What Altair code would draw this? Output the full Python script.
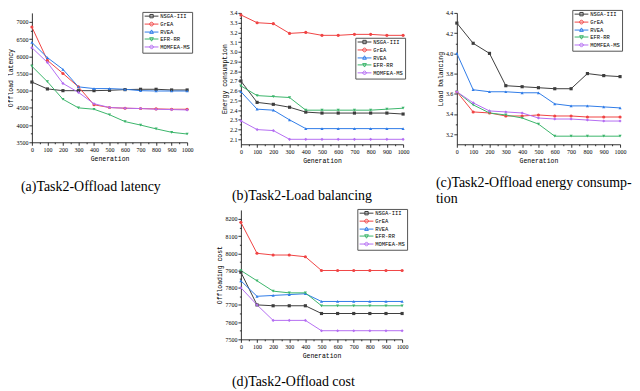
import json
import altair as alt
import pandas as pd

gens = [0, 100, 200, 300, 400, 500, 600, 700, 800, 900, 1000]
gens_minor = [50, 150, 250, 350, 450, 550, 650, 750, 850, 950]
series = ["NSGA-III", "GrEA", "RVEA", "EFR-RR", "MOMFEA-MS"]
colors = ["#3d3d3d", "#f04444", "#2f7ce8", "#3bb56b", "#b46ef2"]
shapes = ["square", "circle", "triangle-up", "triangle-down", "diamond"]
legend_paths = [
    "M-3.7,0H3.7M-0.9,-0.9H0.9V0.9H-0.9Z",
    "M-3.7,0H3.7M1,0A1,1 0 1,1 -1,0A1,1 0 1,1 1,0Z",
    "M-3.7,0H3.7M0,-1.15L1,0.7H-1Z",
    "M-3.7,0H3.7M0,1.15L1,-0.7H-1Z",
    "M-3.7,0H3.7M0,-1.15L1.15,0L0,1.15L-1.15,0Z",
]

# (a) Offload latency
lat_nsga = [5250, 5050, 5000, 5000, 5000, 5010, 5030, 5040, 5040, 5020, 5020]
lat_grea = [6850, 5880, 5500, 5110, 4590, 4510, 4490, 4480, 4470, 4460, 4460]
lat_rvea = [6400, 5960, 5620, 5110, 5060, 5060, 5040, 5000, 4990, 4990, 4990]
lat_efr = [5710, 5260, 4750, 4500, 4460, 4300, 4100, 4000, 3890, 3790, 3740]
lat_mom = [6250, 5820, 5210, 4950, 4620, 4510, 4490, 4480, 4460, 4450, 4440]
lat_major = [3500, 4000, 4500, 5000, 5500, 6000, 6500, 7000]
lat_minor = [3750, 4250, 4750, 5250, 5750, 6250, 6750]

# (b) Energy consumption
en_nsga = [2.70, 2.48, 2.46, 2.43, 2.38, 2.37, 2.37, 2.37, 2.37, 2.37, 2.36]
en_grea = [3.38, 3.30, 3.29, 3.19, 3.20, 3.17, 3.17, 3.18, 3.18, 3.17, 3.17]
en_rvea = [2.59, 2.41, 2.40, 2.30, 2.21, 2.21, 2.21, 2.21, 2.21, 2.21, 2.21]
en_efr = [2.65, 2.55, 2.54, 2.53, 2.40, 2.40, 2.40, 2.40, 2.40, 2.41, 2.42]
en_mom = [2.29, 2.20, 2.19, 2.10, 2.10, 2.10, 2.10, 2.10, 2.10, 2.10, 2.10]
en_major = [2.1, 2.2, 2.3, 2.4, 2.5, 2.6, 2.7, 2.8, 2.9, 3.0, 3.1, 3.2, 3.3, 3.4]
en_minor = [2.15, 2.25, 2.35, 2.45, 2.55, 2.65, 2.75, 2.85, 2.95, 3.05, 3.15, 3.25, 3.35]

# (c) Load balancing
lb_nsga = [4.30, 4.10, 4.00, 3.68, 3.67, 3.66, 3.65, 3.65, 3.80, 3.78, 3.77]
lb_grea = [3.62, 3.42, 3.41, 3.38, 3.38, 3.39, 3.38, 3.38, 3.37, 3.37, 3.37]
lb_rvea = [4.00, 3.64, 3.62, 3.62, 3.61, 3.61, 3.50, 3.48, 3.48, 3.47, 3.46]
lb_efr = [3.62, 3.49, 3.41, 3.39, 3.36, 3.30, 3.18, 3.18, 3.18, 3.18, 3.18]
lb_mom = [3.62, 3.51, 3.43, 3.42, 3.41, 3.36, 3.35, 3.35, 3.34, 3.33, 3.33]
lb_major = [3.2, 3.4, 3.6, 3.8, 4.0, 4.2, 4.4]
lb_minor = [3.3, 3.5, 3.7, 3.9, 4.1, 4.3]

# (d) Offloading cost
oc_nsga = [7890, 7700, 7695, 7695, 7695, 7650, 7650, 7650, 7650, 7650, 7650]
oc_grea = [8180, 8000, 7990, 7990, 7980, 7900, 7900, 7900, 7900, 7900, 7900]
oc_rvea = [7840, 7750, 7755, 7760, 7765, 7720, 7720, 7720, 7720, 7720, 7720]
oc_efr = [7900, 7840, 7780, 7770, 7770, 7695, 7695, 7695, 7695, 7695, 7695]
oc_mom = [7800, 7700, 7610, 7610, 7610, 7550, 7550, 7550, 7550, 7550, 7550]
oc_major = [7500, 7600, 7700, 7800, 7900, 8000, 8100, 8200]
oc_minor = [7550, 7650, 7750, 7850, 7950, 8050, 8150]

TICK_FONT = "Liberation Serif"
MONO = "Liberation Mono"
LEG_SIZE = 14


def mk_axis(major, minor, title, fmt, orient):
    allv = sorted(major + minor)
    test = f"indexof({json.dumps(major)}, datum.value) >= 0"
    return alt.Axis(
        values=allv,
        title=title,
        format=fmt,
        labelExpr=f"{test} ? datum.label : ''",
        tickSize={"condition": {"test": test, "value": 3}, "value": 1.5},
        labelFont=TICK_FONT,
        labelFontSize=6,
        labelColor="black",
        labelPadding=1,
        labelFlush=False,
        labelOverlap=False,
        titleFont=MONO,
        titleFontSize=6.5,
        titleFontWeight="normal",
        titleColor="black",
        titlePadding=2 if orient == "y" else 3,
        tickColor="black",
        domainColor="black",
        tickWidth=0.8,
        domainWidth=0.8,
        grid=False,
    )


def panel(vals, ytitle, domain, major, minor, fmt, width, height, lx, ly,
          caption, cap_dx, cap_offset):
    rows = []
    for s, vs in zip(series, vals):
        for g, v in zip(gens, vs):
            rows.append({"gen": g, "series": s, "value": v})
    df = pd.DataFrame(rows)
    base = alt.Chart(df).encode(
        x=alt.X("gen:Q", scale=alt.Scale(domain=[-0.01, 1000.01], nice=False),
                axis=mk_axis(gens, gens_minor, "Generation", "d", "x")),
        y=alt.Y("value:Q", scale=alt.Scale(domain=domain, nice=False, zero=False),
                axis=mk_axis(major, minor, ytitle, fmt, "y")),
    )
    leg = alt.Legend(
        orient="none", legendX=lx, legendY=ly, title=None,
        labelFont=MONO, labelFontSize=5.5, labelColor="black",
        symbolSize=LEG_SIZE, symbolStrokeWidth=1.0, symbolOpacity=1,
        symbolOffset=5, labelOffset=6,
        rowPadding=-1, padding=1.5, strokeColor="#555555", fillColor="white",
        labelLimit=0,
    )
    layers = [
        base.transform_filter("false")
        .mark_point(filled=False, strokeWidth=1.0, size=LEG_SIZE)
        .encode(
            color=alt.Color("series:N", scale=alt.Scale(domain=series, range=colors), legend=leg),
            shape=alt.Shape("series:N", scale=alt.Scale(domain=series, range=legend_paths), legend=leg),
        )
    ]
    for s, c in zip(series, colors):
        layers.append(
            base.transform_filter(alt.datum.series == s)
            .mark_line(strokeWidth=1, color=c)
        )
    for s, c, shp in zip(series, colors, shapes):
        layers.append(
            base.transform_filter(alt.datum.series == s)
            .mark_point(shape=shp, filled=True, size=10, opacity=1, color=c)
        )
    return alt.layer(*layers).properties(
        width=width, height=height,
        title=alt.TitleParams(
            text=caption, orient="bottom", anchor="start", frame="group",
            font="Liberation Serif", fontSize=14, fontWeight="normal", color="black",
            dx=cap_dx, offset=cap_offset, lineHeight=17,
        ),
    )


pa = panel([lat_nsga, lat_grea, lat_rvea, lat_efr, lat_mom], "Offload latency",
           [3499.9, 7260], lat_major, lat_minor, "d", 156, 130, 111, -1,
           "(a)Task2-Offload latency", -11, 18)
pb = panel([en_nsga, en_grea, en_rvea, en_efr, en_mom], "Energy consumption",
           [2.049, 3.401], en_major, en_minor, ".1f", 163, 132, 115, 25,
           "(b)Task2-Load balancing", -9, 26)
pc = panel([lb_nsga, lb_grea, lb_rvea, lb_efr, lb_mom], "Load balancing",
           [3.1, 4.401], lb_major, lb_minor, ".1f", 164, 132, 116, -3,
           ["(c)Task2-Offload energy consump-", "tion"], -21, 12)
pdd = panel([oc_nsga, oc_grea, oc_rvea, oc_efr, oc_mom], "Offloading cost",
            [7499.9, 8252], oc_major, oc_minor, "d", 162, 130, 117, -1,
            "(d)Task2-Offload cost", -9, 16)

blank = alt.Chart(pd.DataFrame({"v": [0]})).mark_point(opacity=0).encode(
    x=alt.X("v:Q", axis=None), y=alt.Y("v:Q", axis=None)
).properties(width=156, height=130)

chart = alt.concat(
    pa, pb, pc, blank, pdd, columns=3,
    spacing=alt.RowColnumber(row=66, column=54),
    bounds="flush", align="each",
).resolve_scale(color="independent", shape="independent").properties(
    padding=0, background="white"
).configure_view(stroke=None)

chart.save("out.html", embed_options={"renderer": "svg", "actions": False})
